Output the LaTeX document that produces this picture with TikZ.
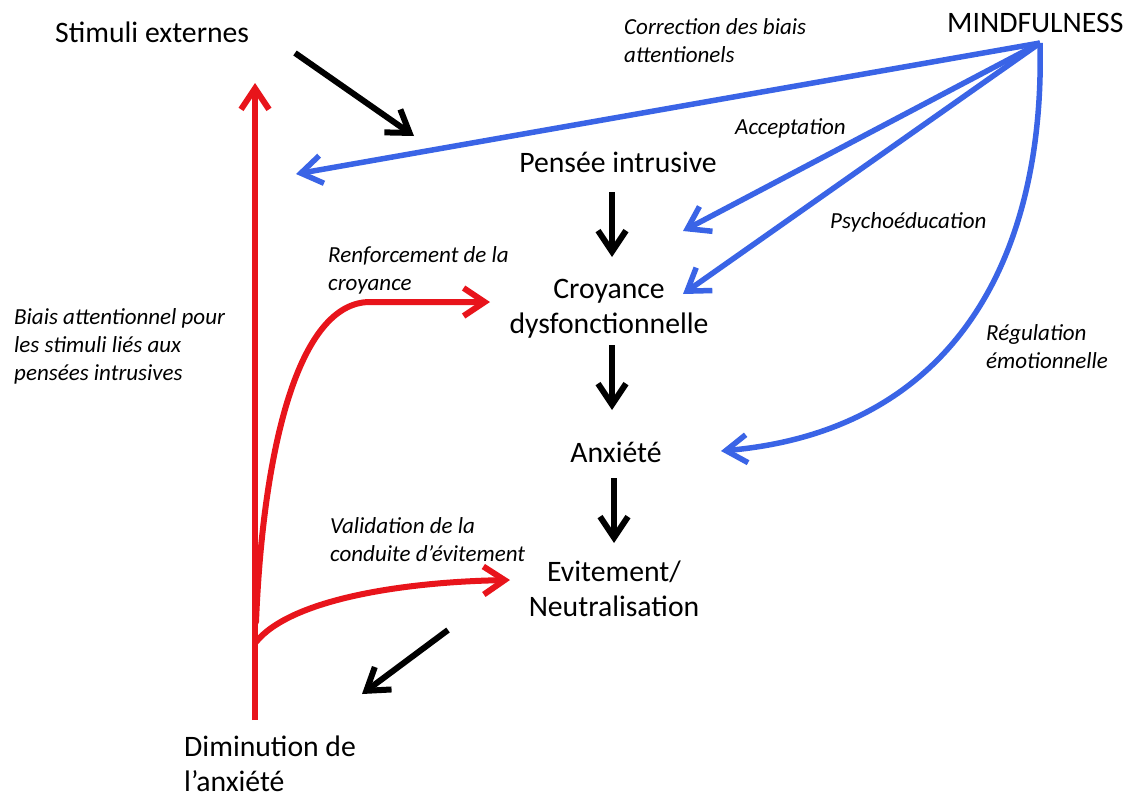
\documentclass[tikz,border=0pt]{standalone}
\usepackage{fontspec}
\setmainfont{Carlito}
\usetikzlibrary{arrows.meta}
\definecolor{arrred}{RGB}{232,20,27}
\definecolor{arrblue}{RGB}{58,100,230}
\begin{document}
\begin{tikzpicture}[x=1pt,y=-1pt,
  main/.style={inner sep=0pt, font=\fontsize{29.7}{35}\selectfont, align=center, anchor=base},
  mainl/.style={main, align=left, anchor=base west},
  lab/.style={inner sep=0pt, font=\fontsize{23}{28}\selectfont\itshape, align=left, anchor=base west},
  arrowbase/.style={line width=6pt, -{Straight Barb[length=21pt,width=28pt]}},
  blkarr/.style={arrowbase, draw=black},
  redarr/.style={arrowbase, draw=arrred},
  redbranch/.style={redarr, line cap=round},
  bluearr/.style={arrowbase, line width=5.5pt, draw=arrblue}]
\useasboundingbox[fill=white] (0,0) rectangle (1131,798);
% nodes (multi-line nodes are placed by the baseline of their last line)
\node[mainl] (stim) at (55,42) {Stimuli externes};
\node[mainl] (mind) at (947,32) {MINDFULNESS};
\node[main] (pensee) at (618,172) {Pensée intrusive};
\node[main] (croy) at (609,333) {Croyance\\dysfonctionnelle};
\node[main] (anx) at (616,462) {Anxiété};
\node[main] (evit) at (614,616) {Evitement/\\Neutralisation};
\node[mainl] (dimin) at (184,791) {Diminution de\\l’anxiété};
% labels
\node[lab] (corr) at (624,62) {Correction des biais\\attentionels};
\node[lab] (accept) at (735,134) {Acceptation};
\node[lab] (psycho) at (830,228) {Psychoéducation};
\node[lab] (regul) at (986,368) {Régulation\\émotionnelle};
\node[lab] (renf) at (328,290) {Renforcement de la\\croyance};
\node[lab] (biais) at (14,380) {Biais attentionnel pour\\les stimuli liés aux\\pensées intrusives};
\node[lab] (valid) at (330,561) {Validation de la\\conduite d’évitement};
% connector end points
\coordinate (stimout) at (295,53);
\coordinate (penseein) at (414,136);
\coordinate (penseeout) at (612,192);
\coordinate (croyin) at (612,257);
\coordinate (croyout) at (612,345);
\coordinate (anxin) at (612,410);
\coordinate (anxout) at (614,478);
\coordinate (evitin) at (614,543);
\coordinate (evitout) at (448,630);
\coordinate (diminin) at (362,694);
\coordinate (diminout) at (255,720);
\coordinate (stimin) at (255,83);
\coordinate (branchA) at (256,622);
\coordinate (branchB) at (256,642);
\coordinate (renfbend) at (370,302);
\coordinate (croyred) at (490,302);
\coordinate (evitred) at (510,580);
\coordinate (mindsrc) at (1040,43);
\coordinate (stimblue) at (296,174);
\coordinate (penseeblue) at (683,231);
\coordinate (croyblue) at (683,294);
\coordinate (anxblue) at (721,451);
% black arrows
\draw[blkarr] (stimout) -- (penseein);
\draw[blkarr] (penseeout) -- (croyin);
\draw[blkarr] (croyout) -- (anxin);
\draw[blkarr] (anxout) -- (evitin);
\draw[blkarr] (evitout) -- (diminin);
% red arrows
\draw[redarr] (diminout) -- (stimin);
\draw[redbranch] (branchA) .. controls (263,450) and (298,302) .. (renfbend) -- (croyred);
\draw[redbranch] (branchB) .. controls (290,600) and (400,582) .. (evitred);
% blue arrows
\draw[bluearr] (mindsrc) -- (stimblue);
\draw[bluearr] (mindsrc) -- (penseeblue);
\draw[bluearr] (mindsrc) -- (croyblue);
\draw[bluearr] (mindsrc) .. controls (1045,250) and (960,430) .. (anxblue);
\end{tikzpicture}
\end{document}
